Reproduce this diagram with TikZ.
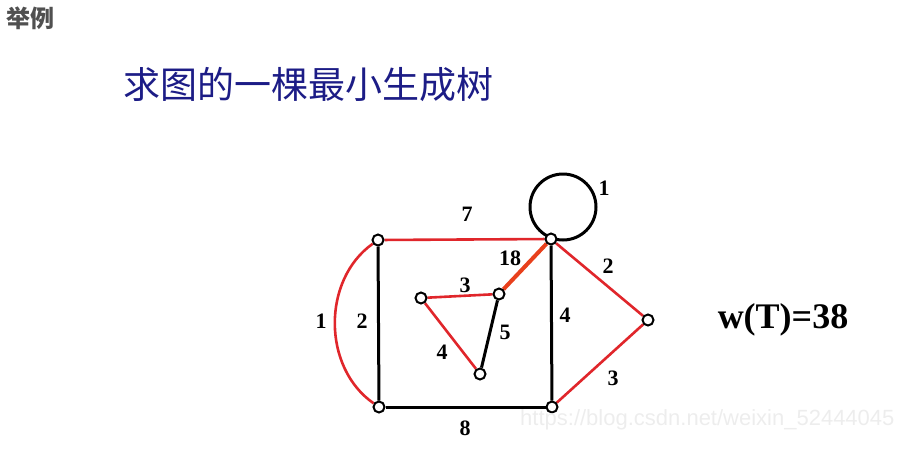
\documentclass[tikz,border=0pt]{standalone}
\usepackage{fontspec}
\setmainfont{Liberation Serif}
\setsansfont{Liberation Sans}
\newfontfamily\cjk{Noto Sans CJK SC}
\usetikzlibrary{calc,backgrounds}
\definecolor{navy}{HTML}{1C1C86}
\definecolor{treered}{HTML}{E0262B}
\definecolor{hotred}{HTML}{E8401C}
\definecolor{darkgray}{HTML}{505050}

\begin{document}
\begin{tikzpicture}[x=1pt,y=-1pt,
  vtx/.style={circle,draw=black,fill=white,line width=2pt,inner sep=0pt,minimum size=11pt},
  plain/.style={line width=3pt,black},
  tree/.style={line width=2.6pt,treered},
  wt/.style={font=\fontsize{22}{22}\selectfont\bfseries}]
  \useasboundingbox (0,0) rectangle (900,453);
  \node[anchor=west,darkgray,font=\cjk\fontsize{24}{24}\selectfont\bfseries] (head) at (3,18) {举例};
  \node[anchor=west,navy,font=\cjk\fontsize{37}{37}\selectfont] (title) at (120,84) {求图的一棵最小生成树};
  % vertices
  \node[vtx] (tl) at (378,240) {};
  \node[vtx] (tr) at (551,239) {};
  \node[vtx] (bl) at (379,407) {};
  \node[vtx] (br) at (552,407) {};
  \node[vtx] (rt) at (648,320) {};
  \node[vtx] (il) at (421,298) {};
  \node[vtx] (ir) at (499,294) {};
  \node[vtx] (ib) at (480,374) {};
  \begin{scope}[on background layer]
    \draw[plain] ($(tr)+(12,-32)$) circle[radius=33];
    \draw[plain] (tl) -- (bl);
    \draw[plain] (bl) -- (br);
    \draw[plain] (tr) -- (br);
    \draw[plain] (ir) -- (ib);
    \draw[tree] (tl) to[bend right=55] (bl);
    \draw[tree] (tl) -- (tr);
    \draw[tree] (tr) -- (rt);
    \draw[tree] (rt) -- (br);
    \draw[tree] (il) -- (ir);
    \draw[tree] (il) -- (ib);
    \draw[line width=4pt,hotred] (tr) -- (ir);
  \end{scope}
  % weights
  \node[wt] (w7) at (467,214) {7};
  \node[wt] (wloop) at (604,188) {1};
  \node[wt] (w18) at (510,258) {18};
  \node[wt] (w2r) at (608,266) {2};
  \node[wt] (w3i) at (465,285) {3};
  \node[wt] (w1l) at (321,321) {1};
  \node[wt] (w2l) at (362,321) {2};
  \node[wt] (w5) at (505,332) {5};
  \node[wt] (w4r) at (565,315) {4};
  \node[wt] (w4i) at (442,352) {4};
  \node[wt] (w3r) at (613,378) {3};
  \node[wt] (w8) at (465,428) {8};
  \node[font=\fontsize{36}{36}\selectfont\bfseries] (total) at (783,320) {w(T)=38};
  \node[anchor=east,black!7,font=\sffamily\fontsize{22}{22}\selectfont] (mark) at (898,420) {https://blog.csdn.net/weixin\_52444045};
\end{tikzpicture}
\end{document}
